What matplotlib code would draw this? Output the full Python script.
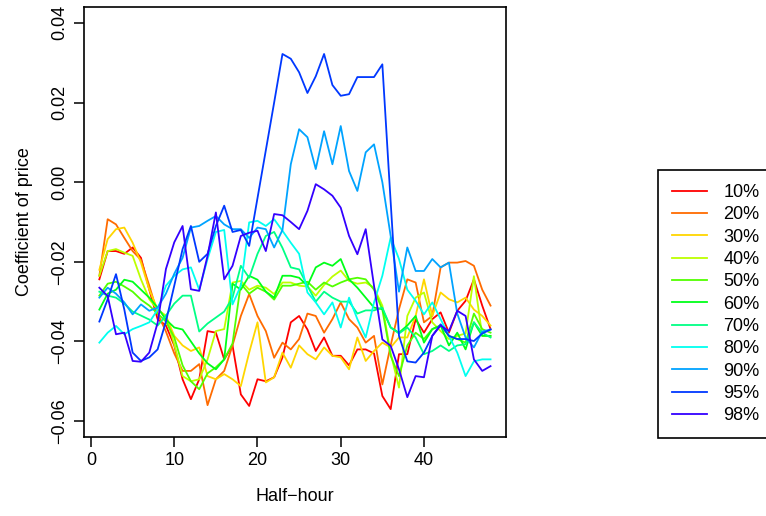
import colorsys
import numpy as np
import matplotlib
matplotlib.use("Agg")
import matplotlib.pyplot as plt

plt.rcParams['font.family'] = ['Liberation Sans', 'DejaVu Sans']

half_hour = np.arange(1, 49)
labels = ["10%", "20%", "30%", "40%", "50%", "60%", "70%", "80%", "90%", "95%", "98%"]

q10 = [-0.0244, -0.0173, -0.0173, -0.0180, -0.0164, -0.0190, -0.0270, -0.0344, -0.0360, -0.0410,
       -0.0495, -0.0545, -0.0495, -0.0374, -0.0378, -0.0445, -0.0410, -0.0533, -0.0562, -0.0495,
       -0.0500, -0.0490, -0.0440, -0.0352, -0.0336, -0.0370, -0.0424, -0.0390, -0.0436, -0.0436,
       -0.0460, -0.0420, -0.0420, -0.0430, -0.0537, -0.0570, -0.0432, -0.0432, -0.0344, -0.0378,
       -0.0344, -0.0327, -0.0378, -0.0323, -0.0298, -0.0244, -0.0310, -0.0369]
q20 = [-0.0235, -0.0093, -0.0106, -0.0140, -0.0173, -0.0195, -0.0260, -0.0330, -0.0375, -0.0430,
       -0.0474, -0.0474, -0.0457, -0.0560, -0.0495, -0.0474, -0.0410, -0.0336, -0.0281, -0.0336,
       -0.0374, -0.0441, -0.0403, -0.0420, -0.0394, -0.0330, -0.0336, -0.0378, -0.0344, -0.0302,
       -0.0344, -0.0365, -0.0403, -0.0386, -0.0508, -0.0410, -0.0319, -0.0244, -0.0252, -0.0352,
       -0.0336, -0.0214, -0.0202, -0.0202, -0.0198, -0.0210, -0.0270, -0.0310]
q30 = [-0.0220, -0.0143, -0.0118, -0.0114, -0.0152, -0.0202, -0.0270, -0.0320, -0.0336, -0.0386,
       -0.0410, -0.0424, -0.0415, -0.0487, -0.0495, -0.0482, -0.0495, -0.0512, -0.0428, -0.0352,
       -0.0503, -0.0490, -0.0428, -0.0466, -0.0410, -0.0432, -0.0445, -0.0415, -0.0436, -0.0440,
       -0.0470, -0.0390, -0.0449, -0.0424, -0.0403, -0.0415, -0.0390, -0.0390, -0.0336, -0.0244,
       -0.0336, -0.0277, -0.0294, -0.0302, -0.0290, -0.0320, -0.0336, -0.0360]
q40 = [-0.0235, -0.0173, -0.0168, -0.0177, -0.0185, -0.0244, -0.0294, -0.0320, -0.0336, -0.0407,
       -0.0487, -0.0500, -0.0495, -0.0445, -0.0374, -0.0369, -0.0252, -0.0248, -0.0270, -0.0260,
       -0.0265, -0.0281, -0.0252, -0.0252, -0.0260, -0.0262, -0.0285, -0.0258, -0.0237, -0.0222,
       -0.0248, -0.0255, -0.0252, -0.0265, -0.0310, -0.0430, -0.0516, -0.0336, -0.0290, -0.0277,
       -0.0352, -0.0374, -0.0394, -0.0386, -0.0380, -0.0236, -0.0386, -0.0386]
q50 = [-0.0285, -0.0255, -0.0250, -0.0262, -0.0275, -0.0295, -0.0310, -0.0330, -0.0350, -0.0390,
       -0.0460, -0.0500, -0.0520, -0.0480, -0.0465, -0.0445, -0.0405, -0.0255, -0.0280, -0.0265,
       -0.0275, -0.0295, -0.0260, -0.0260, -0.0255, -0.0250, -0.0270, -0.0252, -0.0262, -0.0252,
       -0.0244, -0.0240, -0.0244, -0.0270, -0.0320, -0.0436, -0.0487, -0.0410, -0.0378, -0.0394,
       -0.0369, -0.0360, -0.0386, -0.0394, -0.0403, -0.0330, -0.0369, -0.0378]
q60 = [-0.0320, -0.0280, -0.0270, -0.0245, -0.0250, -0.0270, -0.0290, -0.0315, -0.0345, -0.0365,
       -0.0370, -0.0400, -0.0430, -0.0455, -0.0470, -0.0445, -0.0255, -0.0270, -0.0235, -0.0245,
       -0.0275, -0.0290, -0.0235, -0.0235, -0.0240, -0.0260, -0.0214, -0.0202, -0.0210, -0.0193,
       -0.0244, -0.0265, -0.0290, -0.0315, -0.0319, -0.0365, -0.0378, -0.0360, -0.0336, -0.0403,
       -0.0369, -0.0360, -0.0410, -0.0378, -0.0420, -0.0352, -0.0386, -0.0386]
q70 = [-0.0275, -0.0285, -0.0290, -0.0305, -0.0325, -0.0335, -0.0345, -0.0360, -0.0335, -0.0305,
       -0.0285, -0.0285, -0.0375, -0.0355, -0.0340, -0.0325, -0.0290, -0.0210, -0.0240, -0.0180,
       -0.0135, -0.0125, -0.0165, -0.0214, -0.0219, -0.0260, -0.0300, -0.0275, -0.0290, -0.0300,
       -0.0300, -0.0330, -0.0322, -0.0322, -0.0315, -0.0365, -0.0380, -0.0365, -0.0390, -0.0432,
       -0.0424, -0.0410, -0.0424, -0.0410, -0.0407, -0.0352, -0.0378, -0.0390]
q80 = [-0.0403, -0.0378, -0.0361, -0.0382, -0.0369, -0.0361, -0.0352, -0.0320, -0.0260, -0.0235,
       -0.0219, -0.0214, -0.0270, -0.0193, -0.0125, -0.0120, -0.0307, -0.0260, -0.0101, -0.0097,
       -0.0110, -0.0093, -0.0122, -0.0152, -0.0180, -0.0277, -0.0302, -0.0332, -0.0302, -0.0365,
       -0.0290, -0.0344, -0.0390, -0.0302, -0.0235, -0.0139, -0.0193, -0.0270, -0.0298, -0.0332,
       -0.0302, -0.0344, -0.0386, -0.0428, -0.0487, -0.0450, -0.0445, -0.0445]
q90 = [-0.0290, -0.0265, -0.0280, -0.0302, -0.0332, -0.0307, -0.0323, -0.0315, -0.0280, -0.0230,
       -0.0190, -0.0114, -0.0110, -0.0097, -0.0085, -0.0106, -0.0118, -0.0118, -0.0140, -0.0114,
       -0.0118, -0.0164, -0.0120, 0.0045, 0.0133, 0.0113, 0.0033, 0.0128, 0.0045, 0.0141,
       0.0028, -0.0022, 0.0075, 0.0095, 0.0000, -0.0135, -0.0275, -0.0164, -0.0223, -0.0223,
       -0.0193, -0.0214, -0.0202, -0.0330, -0.0390, -0.0415, -0.0375, -0.0370]
q95 = [-0.0350, -0.0294, -0.0231, -0.0320, -0.0428, -0.0449, -0.0440, -0.0420, -0.0350, -0.0260,
       -0.0168, -0.0110, -0.0200, -0.0180, -0.0110, -0.0059, -0.0125, -0.0120, -0.0160, -0.0040,
       0.0080, 0.0200, 0.0322, 0.0310, 0.0276, 0.0224, 0.0266, 0.0322, 0.0244, 0.0217,
       0.0221, 0.0264, 0.0264, 0.0264, 0.0296, -0.0050, -0.0386, -0.0450, -0.0453, -0.0428,
       -0.0386, -0.0357, -0.0386, -0.0394, -0.0394, -0.0399, -0.0380, -0.0370]
q98 = [-0.0265, -0.0286, -0.0382, -0.0378, -0.0449, -0.0451, -0.0428, -0.0353, -0.0218, -0.0151,
       -0.0110, -0.0269, -0.0273, -0.0185, -0.0076, -0.0244, -0.0210, -0.0135, -0.0127, -0.0122,
       -0.0173, -0.0080, -0.0083, -0.0100, -0.0118, -0.0072, -0.0005, -0.0018, -0.0034, -0.0064,
       -0.0135, -0.0181, -0.0118, -0.0260, -0.0395, -0.0411, -0.0470, -0.0540, -0.0487, -0.0490,
       -0.0386, -0.0360, -0.0374, -0.0323, -0.0336, -0.0445, -0.0474, -0.0462]

series = [q10, q20, q30, q40, q50, q60, q70, q80, q90, q95, q98]
x_ticks = [0, 10, 20, 30, 40]
y_ticks = [-0.06, -0.04, -0.02, 0.00, 0.02, 0.04]

hues = np.linspace(0, 0.7, len(series))
colors = [colorsys.hsv_to_rgb(h, 1, 1) for h in hues]

FS = 13

fig = plt.figure(figsize=(7.66, 5.16), dpi=100)
ax = fig.add_axes([83.7 / 766, 79 / 516, 422.5 / 766, 430 / 516])

for vals, col, lab in zip(series, colors, labels):
    ax.plot(half_hour, vals, color=col, lw=1.3, label=lab)

ax.set_xlim(-0.88, 49.88)
ax.set_ylim(-0.064, 0.044)
ax.set_xticks(x_ticks)
ax.set_yticks(y_ticks)
ax.set_yticklabels([f"{t:.2f}".replace("-", "\u2212") for t in y_ticks],
                   rotation=90, va='center')
for sp in ax.spines.values():
    sp.set_linewidth(1.2)
    sp.set_color('black')
ax.tick_params(direction='out', length=7, width=1.1, labelsize=FS, pad=4, colors='black')
ax.set_xlabel("Half\u2212hour", fontsize=FS)
ax.set_ylabel("Coefficient of price", fontsize=FS)
ax.xaxis.set_label_coords(0.5, -0.118)
ax.yaxis.set_label_coords(-0.12, 0.5)

leg_left = 657.7 / 766
leg_top = (516 - 170) / 516
leg_width = (800 - 657.7) / 766
leg = ax.legend(loc='upper left', bbox_to_anchor=(leg_left, leg_top - 0.5, leg_width, 0.5),
                bbox_transform=fig.transFigure, borderaxespad=0, fontsize=FS,
                mode='expand', frameon=True, fancybox=False, edgecolor='black',
                framealpha=1, handlelength=1.94, handletextpad=0.94, labelspacing=0.295,
                borderpad=0.77)
leg.get_frame().set_linewidth(1.2)

fig.savefig("out.png", dpi=100)
